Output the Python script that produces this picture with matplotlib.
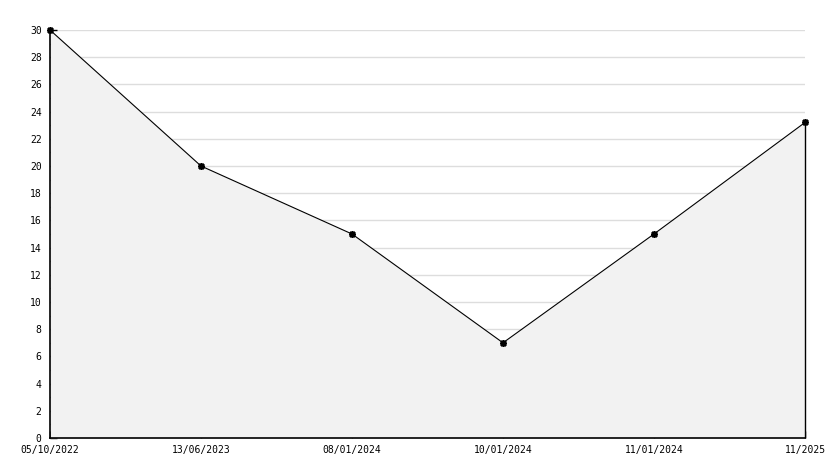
import matplotlib
matplotlib.use("Agg")
import matplotlib.pyplot as plt
from matplotlib.ticker import MultipleLocator

dates = ["05/10/2022", "13/06/2023", "08/01/2024", "10/01/2024", "11/01/2024", "11/2025"]
values = [30, 20, 15, 7, 15, 23.2]

W, H = 834, 468
fig = plt.figure(figsize=(W / 100, H / 100), dpi=100)
ax = fig.add_axes([50 / W, 30 / H, (805 - 50) / W, (438 - 30) / H])

x = list(range(len(dates)))
ax.set_axisbelow(True)
ax.grid(axis="y", which="major", color="#dddddd", lw=1)
ax.fill_between(x, values, 0, color="#f2f2f2", lw=0, zorder=2)
ax.vlines(x[-1], 0, values[-1], color="black", lw=1, zorder=3, clip_on=False)
ax.plot(x, values, color="black", lw=0.8, zorder=4, clip_on=False,
        marker=(8, 2, 0), markersize=5, markeredgewidth=1.2)

ax.set_xlim(0, len(dates) - 1)
ax.set_ylim(0, 30)
ax.yaxis.set_major_locator(MultipleLocator(2))
ax.yaxis.set_minor_locator(MultipleLocator(1))
ax.set_xticks(x)
ax.set_xticklabels(dates)

for s in ["top", "right"]:
    ax.spines[s].set_visible(False)
for s in ["left", "bottom"]:
    ax.spines[s].set_linewidth(1.2)
    ax.spines[s].set_zorder(5)

ax.tick_params(axis="both", which="major", direction="in", length=5, width=1,
               labelsize=7, pad=6)
ax.tick_params(axis="y", which="minor", direction="in", length=3, width=1)
ax.tick_params(axis="x", pad=5)
for lab in ax.get_xticklabels() + ax.get_yticklabels():
    lab.set_family("DejaVu Sans Mono")

fig.savefig("out.png", dpi=100, facecolor="white")
